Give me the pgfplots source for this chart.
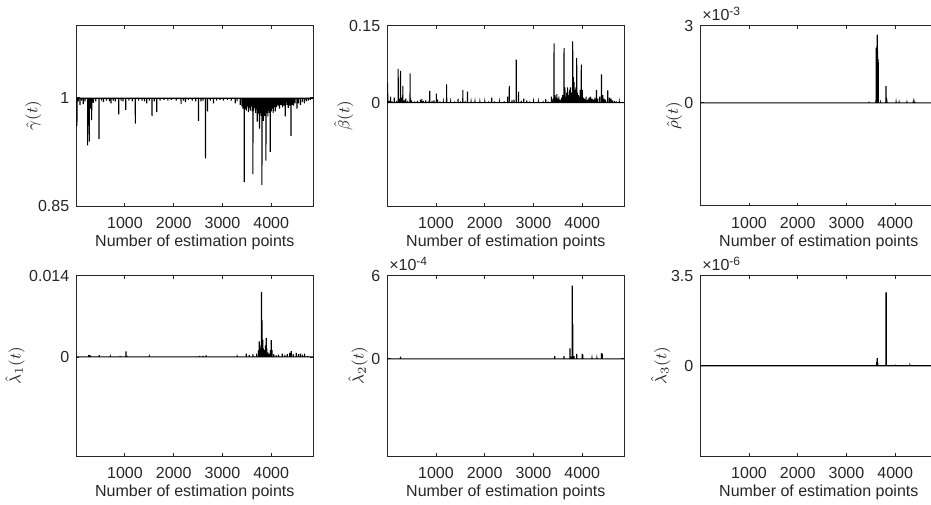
\documentclass[border=0pt]{standalone}
\usepackage{fontspec}
\setmainfont{Liberation Sans}
\usepackage{pgfplots}
\pgfplotsset{compat=1.18}
\definecolor{axgray}{gray}{0.15}
\pgfplotsset{
  mystyle/.style={
    scale only axis, width=118.5pt, height=90.25pt,
    xmin=1, xmax=4863,
    xtick={1000,2000,3000,4000}, xticklabels={1000,2000,3000,4000},
    scaled x ticks=false, scaled y ticks=false,
    axis line style={axgray, line width=0.5pt},
    tick style={axgray, line width=0.5pt},
    major tick length=1.6pt,
    tick align=inside,
    tick label style={font=\fontsize{8}{9.6}\selectfont, text=axgray},
    xticklabel style={yshift=-1.9pt},
    label style={font=\fontsize{8}{9.6}\selectfont, text=axgray},
    xlabel={Number of estimation points},
    xlabel style={at={(axis description cs:0.5,-0.2)}, anchor=center},
    every axis title/.style={at={(axis description cs:0,1)}, anchor=south west, inner sep=0pt, xshift=0.8pt, yshift=2pt, font=\fontsize{8}{9.6}\selectfont, text=axgray},
  },
  myline/.style={black, line width=0.55pt, mark=none},
}
\begin{document}
\begin{tikzpicture}
\useasboundingbox (0,0) rectangle (465.5pt,252pt);

% Panel 1: gamma
\begin{axis}[mystyle, at={(38.15pt,149pt)}, anchor=south west,
  ymin=0.85, ymax=1.1, ytick={0.85,1}, yticklabels={0.85,1},
  ylabel={$\hat{\gamma}(t)$}, ylabel style={at={(axis description cs:-0.181,0.5)}, anchor=center}]
\addplot[myline] coordinates {
(1,0.9992)(12,0.9992)(14,0.961)(16,0.9992)(38,0.9992)(40,0.995)(42,0.9992)(74,0.9992)(76,0.990)(78,0.9992)(108,0.9992)(110,0.996)(112,0.9992)(142,0.9992)(144,0.991)(146,0.9992)(178,0.9992)(180,0.995)(182,0.9992)(232,0.9992)(234,0.934)(236,0.9992)(248,0.9992)(250,0.975)(252,0.9992)(266,0.9992)(268,0.939)(270,0.9992)(288,0.9992)(290,0.985)(292,0.9992)(314,0.9992)(316,0.969)(318,0.9992)(348,0.9992)(350,0.993)(352,0.9992)(398,0.9992)(400,0.995)(402,0.9992)(464,0.9992)(466,0.943)(468,0.9992)(518,0.9992)(520,0.996)(522,0.9992)(558,0.9992)(560,0.994)(562,0.9992)(618,0.9992)(620,0.996)(622,0.9992)(678,0.9992)(680,0.995)(682,0.9992)(711,0.9992)(713,0.992)(715,0.9992)(758,0.9992)(760,0.996)(762,0.9992)(798,0.9992)(800,0.995)(802,0.9992)(869,0.9992)(871,0.977)(873,0.9992)(918,0.9992)(920,0.996)(922,0.9992)(958,0.9992)(960,0.995)(962,0.9992)(1013,0.9992)(1015,0.983)(1017,0.9992)(1078,0.9992)(1080,0.996)(1082,0.9992)(1148,0.9992)(1150,0.995)(1152,0.9992)(1210,0.9992)(1212,0.964)(1214,0.9992)(1278,0.9992)(1280,0.996)(1282,0.9992)(1348,0.9992)(1350,0.996)(1352,0.9992)(1398,0.9992)(1400,0.995)(1402,0.9992)(1444,0.9992)(1446,0.992)(1448,0.9992)(1498,0.9992)(1500,0.996)(1502,0.9992)(1553,0.9992)(1555,0.975)(1557,0.9992)(1598,0.9992)(1600,0.995)(1602,0.9992)(1650,0.9992)(1652,0.980)(1654,0.9992)(1718,0.9992)(1720,0.996)(1722,0.9992)(1798,0.9992)(1800,0.997)(1802,0.9992)(1878,0.9992)(1880,0.996)(1882,0.9992)(1948,0.9992)(1950,0.997)(1952,0.9992)(2048,0.9992)(2050,0.996)(2052,0.9992)(2149,0.9992)(2151,0.991)(2153,0.9992)(2198,0.9992)(2200,0.996)(2202,0.9992)(2238,0.9992)(2240,0.994)(2242,0.9992)(2298,0.9992)(2300,0.997)(2302,0.9992)(2378,0.9992)(2380,0.996)(2382,0.9992)(2448,0.9992)(2450,0.995)(2452,0.9992)(2505,0.9992)(2507,0.968)(2509,0.9992)(2558,0.9992)(2560,0.995)(2562,0.9992)(2598,0.9992)(2600,0.996)(2602,0.9992)(2649,0.9992)(2651,0.916)(2653,0.9992)(2690,0.9992)(2692,0.981)(2694,0.9992)(2748,0.9992)(2750,0.996)(2752,0.9992)(2813,0.9992)(2815,0.992)(2817,0.9992)(2878,0.9992)(2880,0.996)(2882,0.9992)(2948,0.9992)(2950,0.997)(2952,0.9992)(3018,0.9992)(3020,0.996)(3022,0.9992)(3098,0.9992)(3100,0.997)(3102,0.9992)(3178,0.9992)(3180,0.996)(3182,0.9992)(3259,0.9992)(3261,0.992)(3263,0.9992)(3298,0.9992)(3300,0.995)(3302,0.9992)(3362,0.9992)(3364,0.990)(3366,0.9992)(3398,0.9992)(3400,0.988)(3402,0.9992)(3418,0.9992)(3420,0.985)(3422,0.9992)(3444,0.9992)(3446,0.883)(3448,0.9992)(3468,0.9992)(3470,0.984)(3472,0.9992)(3488,0.9992)(3490,0.982)(3492,0.9992)(3508,0.9992)(3510,0.988)(3512,0.9992)(3528,0.9992)(3530,0.980)(3532,0.9992)(3548,0.9992)(3550,0.986)(3552,0.9992)(3568,0.9992)(3570,0.982)(3572,0.9992)(3588,0.9992)(3590,0.988)(3592,0.9992)(3608,0.9992)(3610,0.981)(3612,0.9992)(3622,0.9992)(3624,0.894)(3626,0.9992)(3638,0.9992)(3640,0.982)(3642,0.9992)(3658,0.9992)(3660,0.986)(3662,0.9992)(3678,0.9992)(3680,0.979)(3682,0.9992)(3698,0.9992)(3700,0.984)(3702,0.9992)(3711,0.9992)(3713,0.967)(3715,0.9992)(3728,0.9992)(3730,0.982)(3732,0.9992)(3743,0.9992)(3745,0.977)(3747,0.9992)(3758,0.9992)(3760,0.957)(3762,0.9992)(3778,0.9992)(3780,0.979)(3782,0.9992)(3793,0.9992)(3795,0.975)(3797,0.9992)(3807,0.9992)(3809,0.879)(3811,0.9992)(3823,0.9992)(3825,0.977)(3827,0.9992)(3838,0.9992)(3840,0.968)(3842,0.9992)(3853,0.9992)(3855,0.980)(3857,0.9992)(3868,0.9992)(3870,0.975)(3872,0.9992)(3889,0.9992)(3891,0.913)(3893,0.9992)(3908,0.9992)(3910,0.979)(3912,0.9992)(3928,0.9992)(3930,0.974)(3932,0.9992)(3948,0.9992)(3950,0.982)(3952,0.9992)(3963,0.9992)(3965,0.979)(3967,0.9992)(3978,0.9992)(3980,0.925)(3982,0.9992)(3998,0.9992)(4000,0.981)(4002,0.9992)(4018,0.9992)(4020,0.985)(4022,0.9992)(4038,0.9992)(4040,0.979)(4042,0.9992)(4058,0.9992)(4060,0.987)(4062,0.9992)(4081,0.9992)(4083,0.981)(4085,0.9992)(4108,0.9992)(4110,0.987)(4112,0.9992)(4138,0.9992)(4140,0.989)(4142,0.9992)(4168,0.9992)(4170,0.985)(4172,0.9992)(4198,0.9992)(4200,0.990)(4202,0.9992)(4228,0.9992)(4230,0.987)(4232,0.9992)(4258,0.9992)(4260,0.989)(4262,0.9992)(4286,0.9992)(4288,0.974)(4290,0.9992)(4318,0.9992)(4320,0.990)(4322,0.9992)(4348,0.9992)(4350,0.986)(4352,0.9992)(4378,0.9992)(4380,0.989)(4382,0.9992)(4403,0.9992)(4405,0.947)(4407,0.9992)(4428,0.9992)(4430,0.990)(4432,0.9992)(4458,0.9992)(4460,0.989)(4462,0.9992)(4488,0.9992)(4490,0.992)(4492,0.9992)(4526,0.9992)(4528,0.985)(4530,0.9992)(4558,0.9992)(4560,0.992)(4562,0.9992)(4598,0.9992)(4600,0.990)(4602,0.9992)(4638,0.9992)(4640,0.994)(4642,0.9992)(4678,0.9992)(4680,0.992)(4682,0.9992)(4718,0.9992)(4720,0.995)(4722,0.9992)(4758,0.9992)(4760,0.996)(4762,0.9992)(4798,0.9992)(4800,0.997)(4802,0.9992)(4863,0.9992)
};
\end{axis}

% Panel 2: beta
\begin{axis}[mystyle, at={(193.65pt,149pt)}, anchor=south west,
  ymin=-0.2, ymax=0.15, ytick={0,0.15}, yticklabels={0,0.15},
  ylabel={$\hat{\beta}(t)$}, ylabel style={at={(axis description cs:-0.184,0.5)}, anchor=center}]
\addplot[myline] coordinates {
(1,0.0005)(6,0.0005)(8,0.039)(10,0.0005)(38,0.0005)(40,0.004)(42,0.0005)(67,0.0005)(69,0.012)(71,0.0005)(98,0.0005)(100,0.003)(102,0.0005)(141,0.0005)(143,0.010)(145,0.0005)(188,0.0005)(190,0.004)(192,0.0005)(222,0.0005)(224,0.066)(226,0.0005)(248,0.0005)(250,0.008)(252,0.0005)(271,0.0005)(273,0.062)(275,0.0005)(298,0.0005)(300,0.010)(302,0.0005)(318,0.0005)(320,0.033)(322,0.0005)(348,0.0005)(350,0.005)(352,0.0005)(378,0.0005)(380,0.008)(382,0.0005)(418,0.0005)(420,0.004)(422,0.0005)(467,0.0005)(469,0.057)(471,0.0005)(498,0.0005)(500,0.005)(502,0.0005)(558,0.0005)(560,0.003)(562,0.0005)(618,0.0005)(620,0.004)(622,0.0005)(678,0.0005)(680,0.006)(682,0.0005)(708,0.0005)(710,0.007)(712,0.0005)(738,0.0005)(740,0.004)(742,0.0005)(788,0.0005)(790,0.005)(792,0.0005)(838,0.0005)(840,0.003)(842,0.0005)(869,0.0005)(871,0.023)(873,0.0005)(918,0.0005)(920,0.004)(922,0.0005)(958,0.0005)(960,0.005)(962,0.0005)(1006,0.0005)(1008,0.018)(1010,0.0005)(1028,0.0005)(1030,0.006)(1032,0.0005)(1078,0.0005)(1080,0.003)(1082,0.0005)(1148,0.0005)(1150,0.002)(1152,0.0005)(1216,0.0005)(1218,0.036)(1220,0.0005)(1298,0.0005)(1300,0.002)(1302,0.0005)(1378,0.0005)(1380,0.003)(1382,0.0005)(1451,0.0005)(1453,0.008)(1455,0.0005)(1498,0.0005)(1500,0.003)(1502,0.0005)(1549,0.0005)(1551,0.025)(1553,0.0005)(1598,0.0005)(1600,0.003)(1602,0.0005)(1645,0.0005)(1647,0.022)(1649,0.0005)(1718,0.0005)(1720,0.002)(1722,0.0005)(1798,0.0005)(1800,0.002)(1802,0.0005)(1898,0.0005)(1900,0.002)(1902,0.0005)(1998,0.0005)(2000,0.002)(2002,0.0005)(2078,0.0005)(2080,0.003)(2082,0.0005)(2141,0.0005)(2143,0.010)(2145,0.0005)(2198,0.0005)(2200,0.003)(2202,0.0005)(2298,0.0005)(2300,0.002)(2302,0.0005)(2398,0.0005)(2400,0.003)(2402,0.0005)(2467,0.0005)(2469,0.012)(2471,0.0005)(2502,0.0005)(2504,0.033)(2506,0.0005)(2558,0.0005)(2560,0.005)(2562,0.0005)(2598,0.0005)(2600,0.006)(2602,0.0005)(2645,0.0005)(2647,0.084)(2649,0.0005)(2692,0.0005)(2694,0.022)(2696,0.0005)(2748,0.0005)(2750,0.004)(2752,0.0005)(2798,0.0005)(2800,0.008)(2802,0.0005)(2858,0.0005)(2860,0.005)(2862,0.0005)(2918,0.0005)(2920,0.003)(2922,0.0005)(2998,0.0005)(3000,0.002)(3002,0.0005)(3098,0.0005)(3100,0.002)(3102,0.0005)(3198,0.0005)(3200,0.003)(3202,0.0005)(3248,0.0005)(3250,0.007)(3252,0.0005)(3298,0.0005)(3300,0.003)(3302,0.0005)(3365,0.0005)(3367,0.012)(3369,0.0005)(3398,0.0005)(3400,0.008)(3402,0.0005)(3420,0.0005)(3422,0.1155)(3424,0.0005)(3438,0.0005)(3440,0.015)(3442,0.0005)(3458,0.0005)(3460,0.010)(3462,0.0005)(3478,0.0005)(3480,0.017)(3482,0.0005)(3498,0.0005)(3500,0.008)(3502,0.0005)(3518,0.0005)(3520,0.012)(3522,0.0005)(3548,0.0005)(3550,0.006)(3552,0.0005)(3578,0.0005)(3580,0.010)(3582,0.0005)(3598,0.0005)(3600,0.015)(3602,0.0005)(3625,0.0005)(3627,0.106)(3629,0.0005)(3643,0.0005)(3645,0.030)(3647,0.0005)(3658,0.0005)(3660,0.012)(3662,0.0005)(3678,0.0005)(3680,0.020)(3682,0.0005)(3698,0.0005)(3700,0.030)(3702,0.0005)(3718,0.0005)(3720,0.015)(3722,0.0005)(3738,0.0005)(3740,0.025)(3742,0.0005)(3758,0.0005)(3760,0.030)(3762,0.0005)(3778,0.0005)(3780,0.020)(3782,0.0005)(3802,0.0005)(3804,0.119)(3806,0.0005)(3813,0.0005)(3815,0.050)(3817,0.0005)(3828,0.0005)(3830,0.040)(3832,0.0005)(3848,0.0005)(3850,0.025)(3852,0.0005)(3868,0.0005)(3870,0.030)(3872,0.0005)(3884,0.0005)(3886,0.087)(3888,0.0005)(3898,0.0005)(3900,0.020)(3902,0.0005)(3918,0.0005)(3920,0.015)(3922,0.0005)(3938,0.0005)(3940,0.012)(3942,0.0005)(3958,0.0005)(3960,0.025)(3962,0.0005)(3979,0.0005)(3981,0.074)(3983,0.0005)(3998,0.0005)(4000,0.025)(4002,0.0005)(4018,0.0005)(4020,0.010)(4022,0.0005)(4048,0.0005)(4050,0.008)(4052,0.0005)(4078,0.0005)(4080,0.012)(4082,0.0005)(4108,0.0005)(4110,0.006)(4112,0.0005)(4138,0.0005)(4140,0.010)(4142,0.0005)(4168,0.0005)(4170,0.012)(4172,0.0005)(4198,0.0005)(4200,0.008)(4202,0.0005)(4228,0.0005)(4230,0.006)(4232,0.0005)(4258,0.0005)(4260,0.010)(4262,0.0005)(4290,0.0005)(4292,0.025)(4294,0.0005)(4318,0.0005)(4320,0.008)(4322,0.0005)(4358,0.0005)(4360,0.012)(4362,0.0005)(4392,0.0005)(4394,0.055)(4396,0.0005)(4418,0.0005)(4420,0.015)(4422,0.0005)(4448,0.0005)(4450,0.008)(4452,0.0005)(4478,0.0005)(4480,0.006)(4482,0.0005)(4522,0.0005)(4524,0.024)(4526,0.0005)(4558,0.0005)(4560,0.010)(4562,0.0005)(4588,0.0005)(4590,0.008)(4592,0.0005)(4618,0.0005)(4620,0.005)(4622,0.0005)(4658,0.0005)(4660,0.004)(4662,0.0005)(4698,0.0005)(4700,0.003)(4702,0.0005)(4758,0.0005)(4760,0.002)(4762,0.0005)(4863,0.0005)
};
\end{axis}

% Panel 3: rho
\begin{axis}[mystyle, at={(350.15pt,149pt)}, anchor=south west,
  ymin=-0.004, ymax=0.003, ytick={0,0.003}, yticklabels={0,3},
  title={×10\textsuperscript{-3}},
  ylabel={$\hat{\rho}(t)$}, ylabel style={at={(axis description cs:-0.111,0.5)}, anchor=center}]
\addplot[myline] coordinates {
(1,0)(3457,0)(3459,0.00005)(3461,0)(3606,0)(3610,0.00213)(3614,0)(3618,0)(3622,0.0022)(3626,0)(3630,0.0026)(3634,0.00264)(3638,0)(3646,0)(3650,0.0017)(3654,0)(3698,0)(3700,0.00002)(3702,0)(3806,0)(3810,0.00065)(3814,0)(3828,0)(3830,0.00003)(3832,0)(4015,0)(4017,0.00003)(4019,0)(4078,0)(4080,0.00002)(4082,0)(4238,0)(4240,0.00002)(4242,0)(4368,0)(4370,0.00003)(4372,0)(4398,0)(4400,0.00002)(4402,0)(4863,0)
};
\end{axis}

% Panel 4: lambda1
\begin{axis}[mystyle, at={(38.15pt,24pt)}, anchor=south west,
  ymin=-0.017, ymax=0.014, ytick={0,0.014}, yticklabels={0,0.014},
  ylabel={$\hat{\lambda}_1(t)$}, ylabel style={at={(axis description cs:-0.259,0.5)}, anchor=center}]
\addplot[myline] coordinates {
(1,0.00003)(252,0.00003)(254,0.00035)(256,0.00003)(278,0.00003)(280,0.0003)(282,0.00003)(298,0.00003)(300,0.0002)(302,0.00003)(471,0.00003)(473,0.0003)(475,0.00003)(698,0.00003)(700,0.0001)(702,0.00003)(898,0.00003)(900,0.0002)(902,0.00003)(1019,0.00003)(1021,0.00095)(1023,0.00003)(1038,0.00003)(1040,0.0002)(1042,0.00003)(1498,0.00003)(1500,0.0001)(1502,0.00003)(2525,0.00003)(2527,0.0002)(2529,0.00003)(2598,0.00003)(2600,0.0002)(2602,0.00003)(2662,0.00003)(2664,0.0003)(2666,0.00003)(3298,0.00003)(3300,0.0001)(3302,0.00003)(3485,0.00003)(3487,0.0006)(3489,0.00003)(3548,0.00003)(3550,0.0003)(3552,0.00003)(3622,0.00003)(3624,0.0005)(3626,0.00003)(3698,0.00003)(3700,0.0006)(3702,0.00003)(3738,0.00003)(3740,0.0012)(3742,0.00003)(3752,0.00003)(3754,0.0027)(3756,0.00003)(3768,0.00003)(3770,0.0015)(3772,0.00003)(3788,0.00003)(3790,0.0020)(3792,0.00003)(3799,0.00003)(3801,0.0112)(3803,0.00003)(3810,0.00003)(3812,0.0063)(3814,0.00003)(3823,0.00003)(3825,0.0030)(3827,0.00003)(3838,0.00003)(3840,0.0015)(3842,0.00003)(3858,0.00003)(3860,0.0012)(3862,0.00003)(3878,0.00003)(3880,0.0020)(3882,0.00003)(3896,0.00003)(3898,0.0033)(3900,0.00003)(3908,0.00003)(3910,0.0015)(3912,0.00003)(3928,0.00003)(3930,0.0008)(3932,0.00003)(3958,0.00003)(3960,0.0006)(3962,0.00003)(3983,0.00003)(3985,0.0012)(3987,0.00003)(3998,0.00003)(4000,0.0029)(4002,0.00003)(4013,0.00003)(4015,0.0012)(4017,0.00003)(4048,0.00003)(4050,0.0005)(4052,0.00003)(4098,0.00003)(4100,0.0003)(4102,0.00003)(4148,0.00003)(4150,0.0004)(4152,0.00003)(4224,0.00003)(4226,0.0006)(4228,0.00003)(4278,0.00003)(4280,0.0004)(4282,0.00003)(4328,0.00003)(4330,0.0005)(4332,0.00003)(4378,0.00003)(4380,0.0007)(4382,0.00003)(4409,0.00003)(4411,0.0010)(4413,0.00003)(4448,0.00003)(4450,0.0005)(4452,0.00003)(4512,0.00003)(4514,0.0007)(4516,0.00003)(4558,0.00003)(4560,0.0005)(4562,0.00003)(4598,0.00003)(4600,0.0006)(4602,0.00003)(4638,0.00003)(4640,0.0004)(4642,0.00003)(4683,0.00003)(4685,0.0006)(4687,0.00003)(4748,0.00003)(4750,0.0002)(4752,0.00003)(4863,0.00003)
};
\end{axis}

% Panel 5: lambda2
\begin{axis}[mystyle, at={(193.65pt,24pt)}, anchor=south west,
  ymin=-0.0007, ymax=0.0006, ytick={0,0.0006}, yticklabels={0,6},
  title={×10\textsuperscript{-4}},
  ylabel={$\hat{\lambda}_2(t)$}, ylabel style={at={(axis description cs:-0.124,0.5)}, anchor=center}]
\addplot[myline] coordinates {
(1,0)(271,0)(273,0.000015)(275,0)(3434,0)(3436,0.00002)(3438,0)(3625,0)(3627,0.00002)(3629,0)(3747,0)(3749,0.000075)(3751,0)(3778,0)(3780,0.000015)(3782,0)(3794,0)(3796,0.000527)(3798,0)(3804,0)(3806,0.000249)(3808,0)(3828,0)(3830,0.00002)(3832,0)(3884,0)(3886,0.000035)(3888,0)(3998,0)(4000,0.000035)(4002,0)(4008,0)(4010,0.00003)(4012,0)(4198,0)(4200,0.000005)(4202,0)(4298,0)(4300,0.000005)(4302,0)(4394,0)(4396,0.00004)(4398,0)(4408,0)(4410,0.000035)(4412,0)(4863,0)
};
\end{axis}

% Panel 6: lambda3
\begin{axis}[mystyle, at={(350.15pt,24pt)}, anchor=south west,
  ymin=-3.5e-6, ymax=3.5e-6, ytick={0,3.5e-6}, yticklabels={0,3.5},
  title={×10\textsuperscript{-6}},
  ylabel={$\hat{\lambda}_3(t)$}, ylabel style={at={(axis description cs:-0.167,0.5)}, anchor=center}]
\addplot[myline] coordinates {
(1,0)(3618,0)(3620,1.5e-7)(3622,0)(3628,0)(3630,3e-7)(3632,0)(3638,0)(3640,1e-7)(3642,0)(3808,0)(3811,2.85e-6)(3814,0)(3815,2.85e-6)(3818,0)(4006,0)(4008,4e-8)(4010,0)(4298,0)(4300,2e-8)(4302,0)(4863,0)
};
\end{axis}
\end{tikzpicture}
\end{document}
